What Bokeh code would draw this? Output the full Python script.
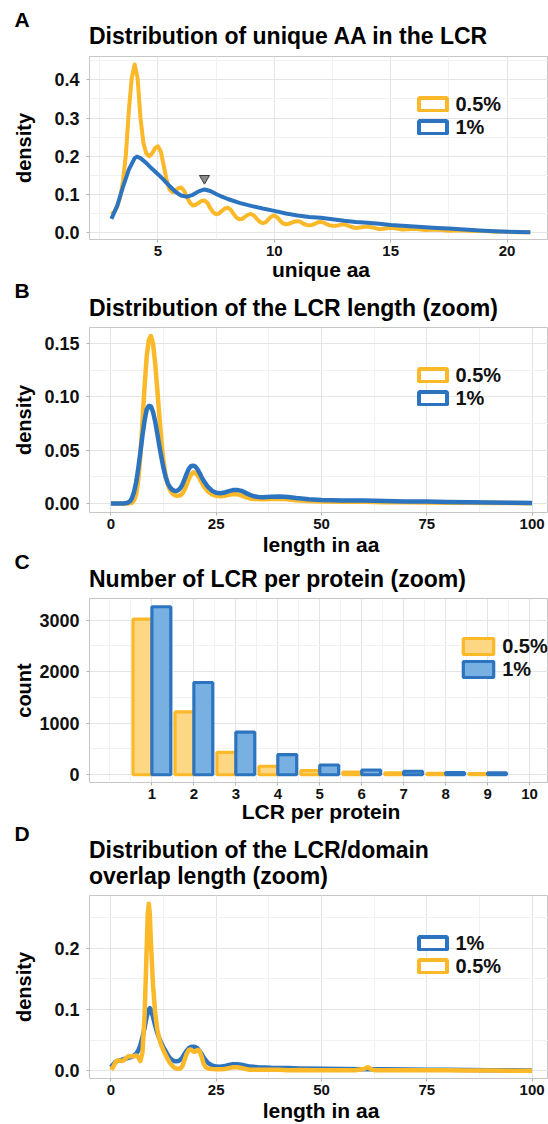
import numpy as np
from bokeh.plotting import figure
from bokeh.models import Range1d, FixedTicker, Legend, LegendItem, NumeralTickFormatter, ColumnDataSource
from bokeh.layouts import column
from bokeh.transform import dodge
from bokeh.core.properties import value
from bokeh.embed import file_html
from bokeh.resources import INLINE

FONT = "Liberation Sans"
ORANGE = "#FBB829"
BLUE = "#2D74C0"
ORANGE_FILL = "#FDD783"
BLUE_FILL = "#78B1E1"

# ---------------- Panel A: unique AA in the LCR (density) ----------------
a_x_05 = [3.0, 3.125, 3.25, 3.375, 3.5, 3.625, 3.75, 3.875, 4.0, 4.125, 4.25, 4.375, 4.5, 4.625, 4.75, 4.875,
          5.0, 5.125, 5.25, 5.375, 5.5, 5.625, 5.75, 5.875, 6.0, 6.125, 6.25, 6.375, 6.5, 6.625, 6.75, 6.875,
          7.0, 7.125, 7.25, 7.375, 7.5, 7.625, 7.75, 7.875, 8.0, 8.125, 8.25, 8.375, 8.5, 8.625, 8.75, 8.875,
          9.0, 9.125, 9.25, 9.375, 9.5, 9.625, 9.75, 9.875, 10.0, 10.125, 10.25, 10.375, 10.5, 10.625, 10.75, 10.875,
          11.0, 11.125, 11.25, 11.375, 11.5, 11.625, 11.75, 11.875, 12.0, 12.125, 12.25, 12.375, 12.5, 12.625, 12.75, 12.875,
          13.0, 13.25, 13.5, 13.75, 14.0, 14.25, 14.5, 14.75, 15.0, 15.25, 15.5, 15.75, 16.0,
          16.5, 17.0, 17.5, 18.0, 18.5, 19.0, 19.5, 20.0, 20.5, 21.0]
a_y_05 = [0.048, 0.055, 0.068, 0.092, 0.135, 0.205, 0.320, 0.405, 0.440, 0.405, 0.300, 0.235, 0.207, 0.200, 0.207, 0.221,
          0.226, 0.212, 0.175, 0.137, 0.113, 0.106, 0.110, 0.116, 0.118, 0.110, 0.093, 0.078, 0.071, 0.073, 0.078, 0.083,
          0.084, 0.078, 0.064, 0.053, 0.048, 0.050, 0.057, 0.063, 0.065, 0.060, 0.049, 0.039, 0.035, 0.036, 0.042, 0.047,
          0.049, 0.045, 0.036, 0.028, 0.025, 0.027, 0.035, 0.042, 0.045, 0.040, 0.031, 0.024, 0.022, 0.023, 0.026, 0.029,
          0.030, 0.028, 0.023, 0.020, 0.019, 0.020, 0.023, 0.027, 0.028, 0.026, 0.022, 0.019, 0.018, 0.018, 0.019, 0.021,
          0.022, 0.016, 0.012, 0.014, 0.016, 0.013, 0.009, 0.011, 0.013, 0.011, 0.008, 0.009, 0.010,
          0.007, 0.008, 0.005, 0.006, 0.004, 0.004, 0.002, 0.002, 0.001, 0.001]
a_x_1 = [3.0, 3.25, 3.5, 3.75, 4.0, 4.1, 4.25, 4.5, 4.75, 5.0, 5.25, 5.5, 5.75, 6.0, 6.25, 6.5, 6.75, 7.0, 7.25, 7.5,
         7.75, 8.0, 8.5, 9.0, 9.5, 10.0, 10.5, 11.0, 11.5, 12.0, 12.5, 13.0, 13.5, 14.0, 14.5, 15.0, 15.5, 16.0,
         16.5, 17.0, 17.5, 18.0, 18.5, 19.0, 19.5, 20.0, 20.5, 21.0]
a_y_1 = [0.036, 0.070, 0.120, 0.165, 0.195, 0.199, 0.195, 0.182, 0.167, 0.153, 0.138, 0.122, 0.107, 0.097, 0.094, 0.099,
         0.108, 0.113, 0.109, 0.101, 0.094, 0.088, 0.078, 0.070, 0.063, 0.057, 0.050, 0.045, 0.041, 0.039, 0.035, 0.031,
         0.028, 0.026, 0.023, 0.020, 0.018, 0.016, 0.014, 0.012, 0.0105, 0.009, 0.007, 0.005, 0.0035, 0.0025, 0.0015, 0.001]
a_marker_x = [7.0]
a_marker_y = [0.142]
a_xticks = [5, 10, 15, 20]
a_xminor = [2.5, 7.5, 12.5, 17.5]
a_yticks = [0.0, 0.1, 0.2, 0.3, 0.4]
a_yminor = [0.05, 0.15, 0.25, 0.35, 0.45]

# ---------------- Panel B: LCR length (density) ----------------
b_x_05 = [0, 1, 2, 3, 4, 5, 5.5, 6, 6.5, 7, 7.5, 8, 8.5, 9, 9.5, 10, 10.5, 11, 11.5, 12, 12.5, 13, 13.5, 14, 14.5,
          15, 15.5, 16, 16.5, 17, 17.5, 18, 18.5, 19, 19.5, 20, 20.5, 21, 21.5, 22, 23, 24, 25, 26, 27, 28, 29, 30,
          31, 32, 33, 34, 36, 38, 40, 42, 44, 47, 50, 55, 60, 65, 70, 75, 80, 85, 90, 95, 100]
b_y_05 = [0, 0, 0, 0, 0.0001, 0.0008, 0.003, 0.009, 0.022, 0.045, 0.077, 0.110, 0.138, 0.153, 0.157, 0.150, 0.132,
          0.108, 0.082, 0.058, 0.039, 0.026, 0.018, 0.013, 0.0098, 0.0082, 0.0074, 0.0072, 0.0078, 0.0095, 0.013,
          0.018, 0.023, 0.027, 0.029, 0.0288, 0.027, 0.024, 0.020, 0.0165, 0.0115, 0.0085, 0.0072, 0.0067, 0.0072,
          0.0082, 0.0088, 0.0087, 0.0077, 0.0060, 0.0048, 0.0042, 0.0040, 0.0043, 0.0045, 0.0040, 0.0030, 0.0023,
          0.0020, 0.0017, 0.0016, 0.0013, 0.0011, 0.0010, 0.0008, 0.0007, 0.0005, 0.0004, 0.0003]
b_x_1 = [0, 1, 2, 3, 4, 4.5, 5, 5.5, 6, 6.5, 7, 7.5, 8, 8.5, 9, 9.5, 10, 10.5, 11, 11.5, 12, 12.5, 13, 13.5, 14, 14.5,
         15, 15.5, 16, 16.5, 17, 17.5, 18, 18.5, 19, 19.5, 20, 20.5, 21, 21.5, 22, 23, 24, 25, 26, 27, 28, 29, 30,
         31, 32, 33, 34, 35, 36, 38, 40, 42, 44, 47, 50, 55, 60, 65, 70, 75, 80, 85, 90, 95, 100]
b_y_1 = [0, 0, 0, 0.0001, 0.0008, 0.002, 0.005, 0.011, 0.020, 0.033, 0.048, 0.064, 0.078, 0.088, 0.0915, 0.091, 0.086,
         0.077, 0.066, 0.054, 0.043, 0.033, 0.025, 0.019, 0.0155, 0.0132, 0.012, 0.0118, 0.0124, 0.0145, 0.018, 0.023,
         0.028, 0.0325, 0.035, 0.0355, 0.0348, 0.0325, 0.029, 0.025, 0.0215, 0.0158, 0.012, 0.0101, 0.0096, 0.0103,
         0.0116, 0.0126, 0.0128, 0.0119, 0.0100, 0.0081, 0.0068, 0.0061, 0.0060, 0.0063, 0.0066, 0.0061, 0.0051,
         0.0040, 0.0033, 0.0029, 0.0028, 0.0024, 0.0020, 0.0018, 0.0015, 0.0012, 0.0010, 0.0008, 0.0006]
bd_xticks = [0, 25, 50, 75, 100]
bd_xminor = [12.5, 37.5, 62.5, 87.5]
b_yticks = [0.0, 0.05, 0.10, 0.15]
b_yminor = [0.025, 0.075, 0.125]

# ---------------- Panel C: number of LCR per protein (counts) ----------------
c_lcr = [1, 2, 3, 4, 5, 6, 7, 8, 9]
c_count_05 = [3020, 1220, 435, 165, 81, 54, 35, 29, 23]
c_count_1 = [3260, 1790, 828, 391, 190, 93, 68, 42, 35]
c_xticks = [1, 2, 3, 4, 5, 6, 7, 8, 9, 10]
c_xminor = [0, 0.5, 1.5, 2.5, 3.5, 4.5, 5.5, 6.5, 7.5, 8.5, 9.5]
c_yticks = [0, 1000, 2000, 3000]
c_yminor = [500, 1500, 2500]

# ---------------- Panel D: LCR/domain overlap length (density) ----------------
d_x_1 = [0, 0.5, 1, 1.5, 2, 2.5, 3, 3.5, 4, 4.5, 5, 5.5, 6, 6.5, 7, 7.5, 8, 8.5, 9, 9.25, 9.5, 10, 10.5, 11, 11.5,
         12, 12.5, 13, 13.5, 14, 14.5, 15, 15.5, 16, 16.5, 17, 17.5, 18, 18.5, 19, 19.5, 20, 20.5, 21, 21.5, 22, 23,
         24, 25, 26, 27, 28, 29, 30, 31, 32, 33, 35, 38, 40, 42, 45, 50, 55, 60, 65, 70, 75, 80, 85, 90, 95, 100]
d_y_1 = [0.006, 0.010, 0.014, 0.016, 0.017, 0.018, 0.019, 0.020, 0.021, 0.022, 0.023, 0.025, 0.028, 0.033, 0.042,
         0.055, 0.070, 0.088, 0.100, 0.102, 0.100, 0.088, 0.074, 0.062, 0.053, 0.045, 0.038, 0.032, 0.026, 0.021,
         0.018, 0.016, 0.0155, 0.016, 0.018, 0.022, 0.028, 0.033, 0.037, 0.039, 0.0395, 0.039, 0.037, 0.033, 0.028,
         0.022, 0.013, 0.009, 0.007, 0.0068, 0.0078, 0.0095, 0.0108, 0.011, 0.010, 0.0085, 0.007, 0.0058, 0.005,
         0.0048, 0.0045, 0.004, 0.0033, 0.003, 0.0028, 0.0025, 0.0022, 0.002, 0.0018, 0.0015, 0.0012, 0.001, 0.0008]
d_x_05 = [0, 0.5, 1, 1.5, 2, 2.5, 3, 3.5, 4, 4.5, 5, 5.5, 6, 6.5, 7, 7.5, 8, 8.5, 8.75, 9, 9.25, 9.5, 10, 10.5, 11,
          11.5, 12, 12.5, 13, 13.5, 14, 14.5, 15, 15.5, 16, 16.5, 17, 17.5, 18, 18.5, 19, 19.5, 20, 20.5, 21, 21.5,
          22, 22.5, 23, 24, 25, 26, 27, 28, 29, 30, 31, 32, 33, 35, 38, 40, 42, 45, 48, 50, 55, 58, 60, 61, 62, 63,
          65, 70, 75, 80, 85, 90, 95, 100]
d_y_05 = [0.002, 0.006, 0.013, 0.017, 0.017, 0.016, 0.017, 0.020, 0.023, 0.024, 0.024, 0.024, 0.025, 0.022, 0.016,
          0.030, 0.090, 0.200, 0.255, 0.272, 0.255, 0.210, 0.140, 0.095, 0.068, 0.052, 0.041, 0.033, 0.026, 0.019,
          0.013, 0.009, 0.0055, 0.004, 0.0035, 0.004, 0.008, 0.018, 0.028, 0.034, 0.035, 0.032, 0.031, 0.034, 0.033,
          0.024, 0.012, 0.006, 0.004, 0.003, 0.0025, 0.0025, 0.003, 0.0045, 0.0058, 0.006, 0.0048, 0.003, 0.002,
          0.002, 0.0018, 0.002, 0.0012, 0.0015, 0.001, 0.0012, 0.001, 0.0012, 0.003, 0.006, 0.002, 0.001, 0.001,
          0.0012, 0.001, 0.0009, 0.0008, 0.0006, 0.0004, 0.0003]
d_yticks = [0.0, 0.1, 0.2]
d_yminor = [0.05, 0.15, 0.25]

# ---------------- layout helpers ----------------
FIG_W = 548
BORDER_L = 89
BOTTOM = 24      # space under each panel for its tick labels
OVER = 10        # header strips reach this far into the next panel (transparent)
LEG_TOP = 34.5   # legend top, px below the top of the panel
ROW_PX = 24      # rendered height of one legend row
XMID = 320.5     # centre of the x-axis titles


def make_header(height, items, overlap_top):
    """Transparent text strip: previous panel's x title, panel letter and title."""
    h = figure(width=FIG_W, height=height + OVER, x_range=Range1d(0, FIG_W), y_range=Range1d(height + OVER, 0),
               x_axis_type=None, y_axis_type=None, output_backend="svg", toolbar_location=None,
               min_border_left=0, min_border_right=0, min_border_top=0, min_border_bottom=0,
               frame_align=False, margin=(-overlap_top, 0, -OVER, 0))
    h.outline_line_color = None
    h.background_fill_alpha = 0
    h.border_fill_alpha = 0
    for (x, base, txt, size, align) in items:
        px = float(size.replace("px", ""))
        h.text(x=[x], y=[base - 0.335 * px], text=[txt], text_font=value(FONT), text_font_size=value(size),
               text_font_style="bold", text_color="#000000", text_baseline="alphabetic", text_align=align)
    return h


def make_fig(frame_h, xr, yr, xt, xmin, yt, ymin, yfmt, ylabel, yl_standoff):
    p = figure(width=FIG_W, height=frame_h + BOTTOM, x_range=Range1d(*xr), y_range=Range1d(*yr),
               output_backend="svg", toolbar_location=None,
               min_border_left=BORDER_L, min_border_right=0,
               min_border_top=0, min_border_bottom=BOTTOM)
    p.outline_line_color = "#C6C6C6"
    p.outline_line_width = 1
    p.xaxis.ticker = FixedTicker(ticks=xt, minor_ticks=xmin)
    p.yaxis.ticker = FixedTicker(ticks=yt, minor_ticks=ymin)
    p.xaxis.formatter = NumeralTickFormatter(format="0")
    p.yaxis.formatter = NumeralTickFormatter(format=yfmt)
    for ax in (p.xaxis[0], p.yaxis[0]):
        ax.axis_line_color = None
        ax.major_tick_line_color = "#B3B3B3"
        ax.major_tick_out = 3
        ax.major_tick_in = 0
        ax.minor_tick_line_color = None
        ax.major_label_text_font = FONT
        ax.major_label_text_font_style = "bold"
        ax.major_label_text_color = "#111111"
    p.xaxis.major_label_text_font_size = "15px"
    p.xaxis.major_label_standoff = 2
    p.yaxis.major_label_text_font_size = "18px"
    p.yaxis.major_label_standoff = 6
    p.yaxis.axis_label = ylabel
    p.yaxis.axis_label_text_font = FONT
    p.yaxis.axis_label_text_font_style = "bold"
    p.yaxis.axis_label_text_color = "#000000"
    p.yaxis.axis_label_text_font_size = "20px"
    p.yaxis.axis_label_standoff = yl_standoff
    for g in (p.xgrid[0], p.ygrid[0]):
        g.grid_line_color = "#E4E4E4"
        g.grid_line_width = 1
        g.minor_grid_line_color = "#F1F1F1"
        g.minor_grid_line_width = 1
    return p


def key_box(p, color):
    # legend key only: a quad without a drawable position
    return p.quad(left=np.array([np.nan]), right=np.array([np.nan]), bottom=np.array([np.nan]),
                  top=np.array([np.nan]), fill_color="white", line_color=color, line_width=4)


def add_legend(p, items, frame_h, left, gw, gh, standoff):
    leg = Legend(items=items, location=(left, frame_h - LEG_TOP - 2 * ROW_PX),
                 orientation="vertical", glyph_width=gw, glyph_height=gh,
                 label_standoff=standoff, label_height=20, spacing=0, padding=0, margin=0,
                 background_fill_alpha=0, border_line_color=None,
                 label_text_font=FONT, label_text_font_style="bold",
                 label_text_font_size="20px", label_text_color="#111111")
    p.add_layout(leg)


# ---------------- Panel A ----------------
hA = make_header(56, [(14, 26, "A", "21px", "left"),
                      (88.5, 43.3, "Distribution of unique AA in the LCR", "23px", "left")], 0)
FA = 183
pA = make_fig(FA, (2.06, 21.78), (-0.018, 0.461), a_xticks, a_xminor, a_yticks, a_yminor, "0.0", "density", 16)
pA.line(a_x_05, a_y_05, line_color=ORANGE, line_width=4, line_join="round")
pA.line(a_x_1, a_y_1, line_color=BLUE, line_width=4, line_join="round")
pA.scatter(a_marker_x, a_marker_y, marker="inverted_triangle", size=10,
           fill_color="#8A8A8A", line_color="#3A3A3A", line_width=1)
add_legend(pA, [LegendItem(label="0.5%", renderers=[key_box(pA, ORANGE)]),
                LegendItem(label="1%", renderers=[key_box(pA, BLUE)])], FA, 325.5, 35, 16, 6)

# ---------------- Panel B (header starts at the bottom of panel A's frame, y=239) ----------------
hB = make_header(88, [(XMID, 37, "unique aa", "21px", "center"),
                      (14, 57.7, "B", "21px", "left"),
                      (88.5, 76, "Distribution of the LCR length (zoom)", "23px", "left")], BOTTOM)
FB = 185
pB = make_fig(FB, (-5.08, 103.9), (-0.0084, 0.165), bd_xticks, bd_xminor, b_yticks, b_yminor, "0.00", "density", 6)
pB.line(b_x_05, b_y_05, line_color=ORANGE, line_width=4.5, line_join="round")
pB.line(b_x_1, b_y_1, line_color=BLUE, line_width=4.5, line_join="round")
add_legend(pB, [LegendItem(label="0.5%", renderers=[key_box(pB, ORANGE)]),
                LegendItem(label="1%", renderers=[key_box(pB, BLUE)])], FB, 325.5, 35, 16, 6)

# ---------------- Panel C (header starts at y=512) ----------------
hC = make_header(86, [(XMID, 39, "length in aa", "21px", "center"),
                      (14, 56, "C", "21px", "left"),
                      (88.5, 74.7, "Number of LCR per protein (zoom)", "23px", "left")], BOTTOM)
FC = 184
pC = make_fig(FC, (-0.487, 10.45), (-150, 3420), c_xticks, c_xminor, c_yticks, c_yminor, "0", "count", 1)
cds = ColumnDataSource(dict(x=c_lcr, o=c_count_05, b=c_count_1))
rC1 = pC.vbar(x=dodge("x", -0.225), top="o", bottom=0, width=0.45, source=cds,
              fill_color=ORANGE_FILL, line_color=ORANGE, line_width=3.2)
rC2 = pC.vbar(x=dodge("x", 0.225), top="b", bottom=0, width=0.45, source=cds,
              fill_color=BLUE_FILL, line_color=BLUE, line_width=3.2)
add_legend(pC, [LegendItem(label="0.5%", renderers=[rC1]), LegendItem(label="1%", renderers=[rC2])],
           FC, 370.2, 38, 20, 5)

# ---------------- Panel D (header starts at y=782) ----------------
hD = make_header(113, [(XMID, 36, "LCR per protein", "21px", "center"),
                       (14, 58, "D", "21px", "left"),
                       (88.5, 75, "Distribution of the LCR/domain", "23px", "left"),
                       (88.5, 101, "overlap length (zoom)", "23px", "left")], BOTTOM)
FD = 183
pD = make_fig(FD, (-5.08, 103.9), (-0.0124, 0.2856), bd_xticks, bd_xminor, d_yticks, d_yminor, "0.0", "density", 16)
pD.line(d_x_1, d_y_1, line_color=BLUE, line_width=4.5, line_join="round")
pD.line(d_x_05, d_y_05, line_color=ORANGE, line_width=4.5, line_join="round")
add_legend(pD, [LegendItem(label="1%", renderers=[key_box(pD, BLUE)]),
                LegendItem(label="0.5%", renderers=[key_box(pD, ORANGE)])], FD, 325.5, 35, 16, 6)

# ---------------- footer: x title of panel D (starts at y=1078) ----------------
hE = make_header(46, [(XMID, 39, "length in aa", "21px", "center")], BOTTOM)

layout = column(hA, pA, hB, pB, hC, pC, hD, pD, hE, spacing=0)
open("out.html", "w").write(file_html(layout, INLINE))
